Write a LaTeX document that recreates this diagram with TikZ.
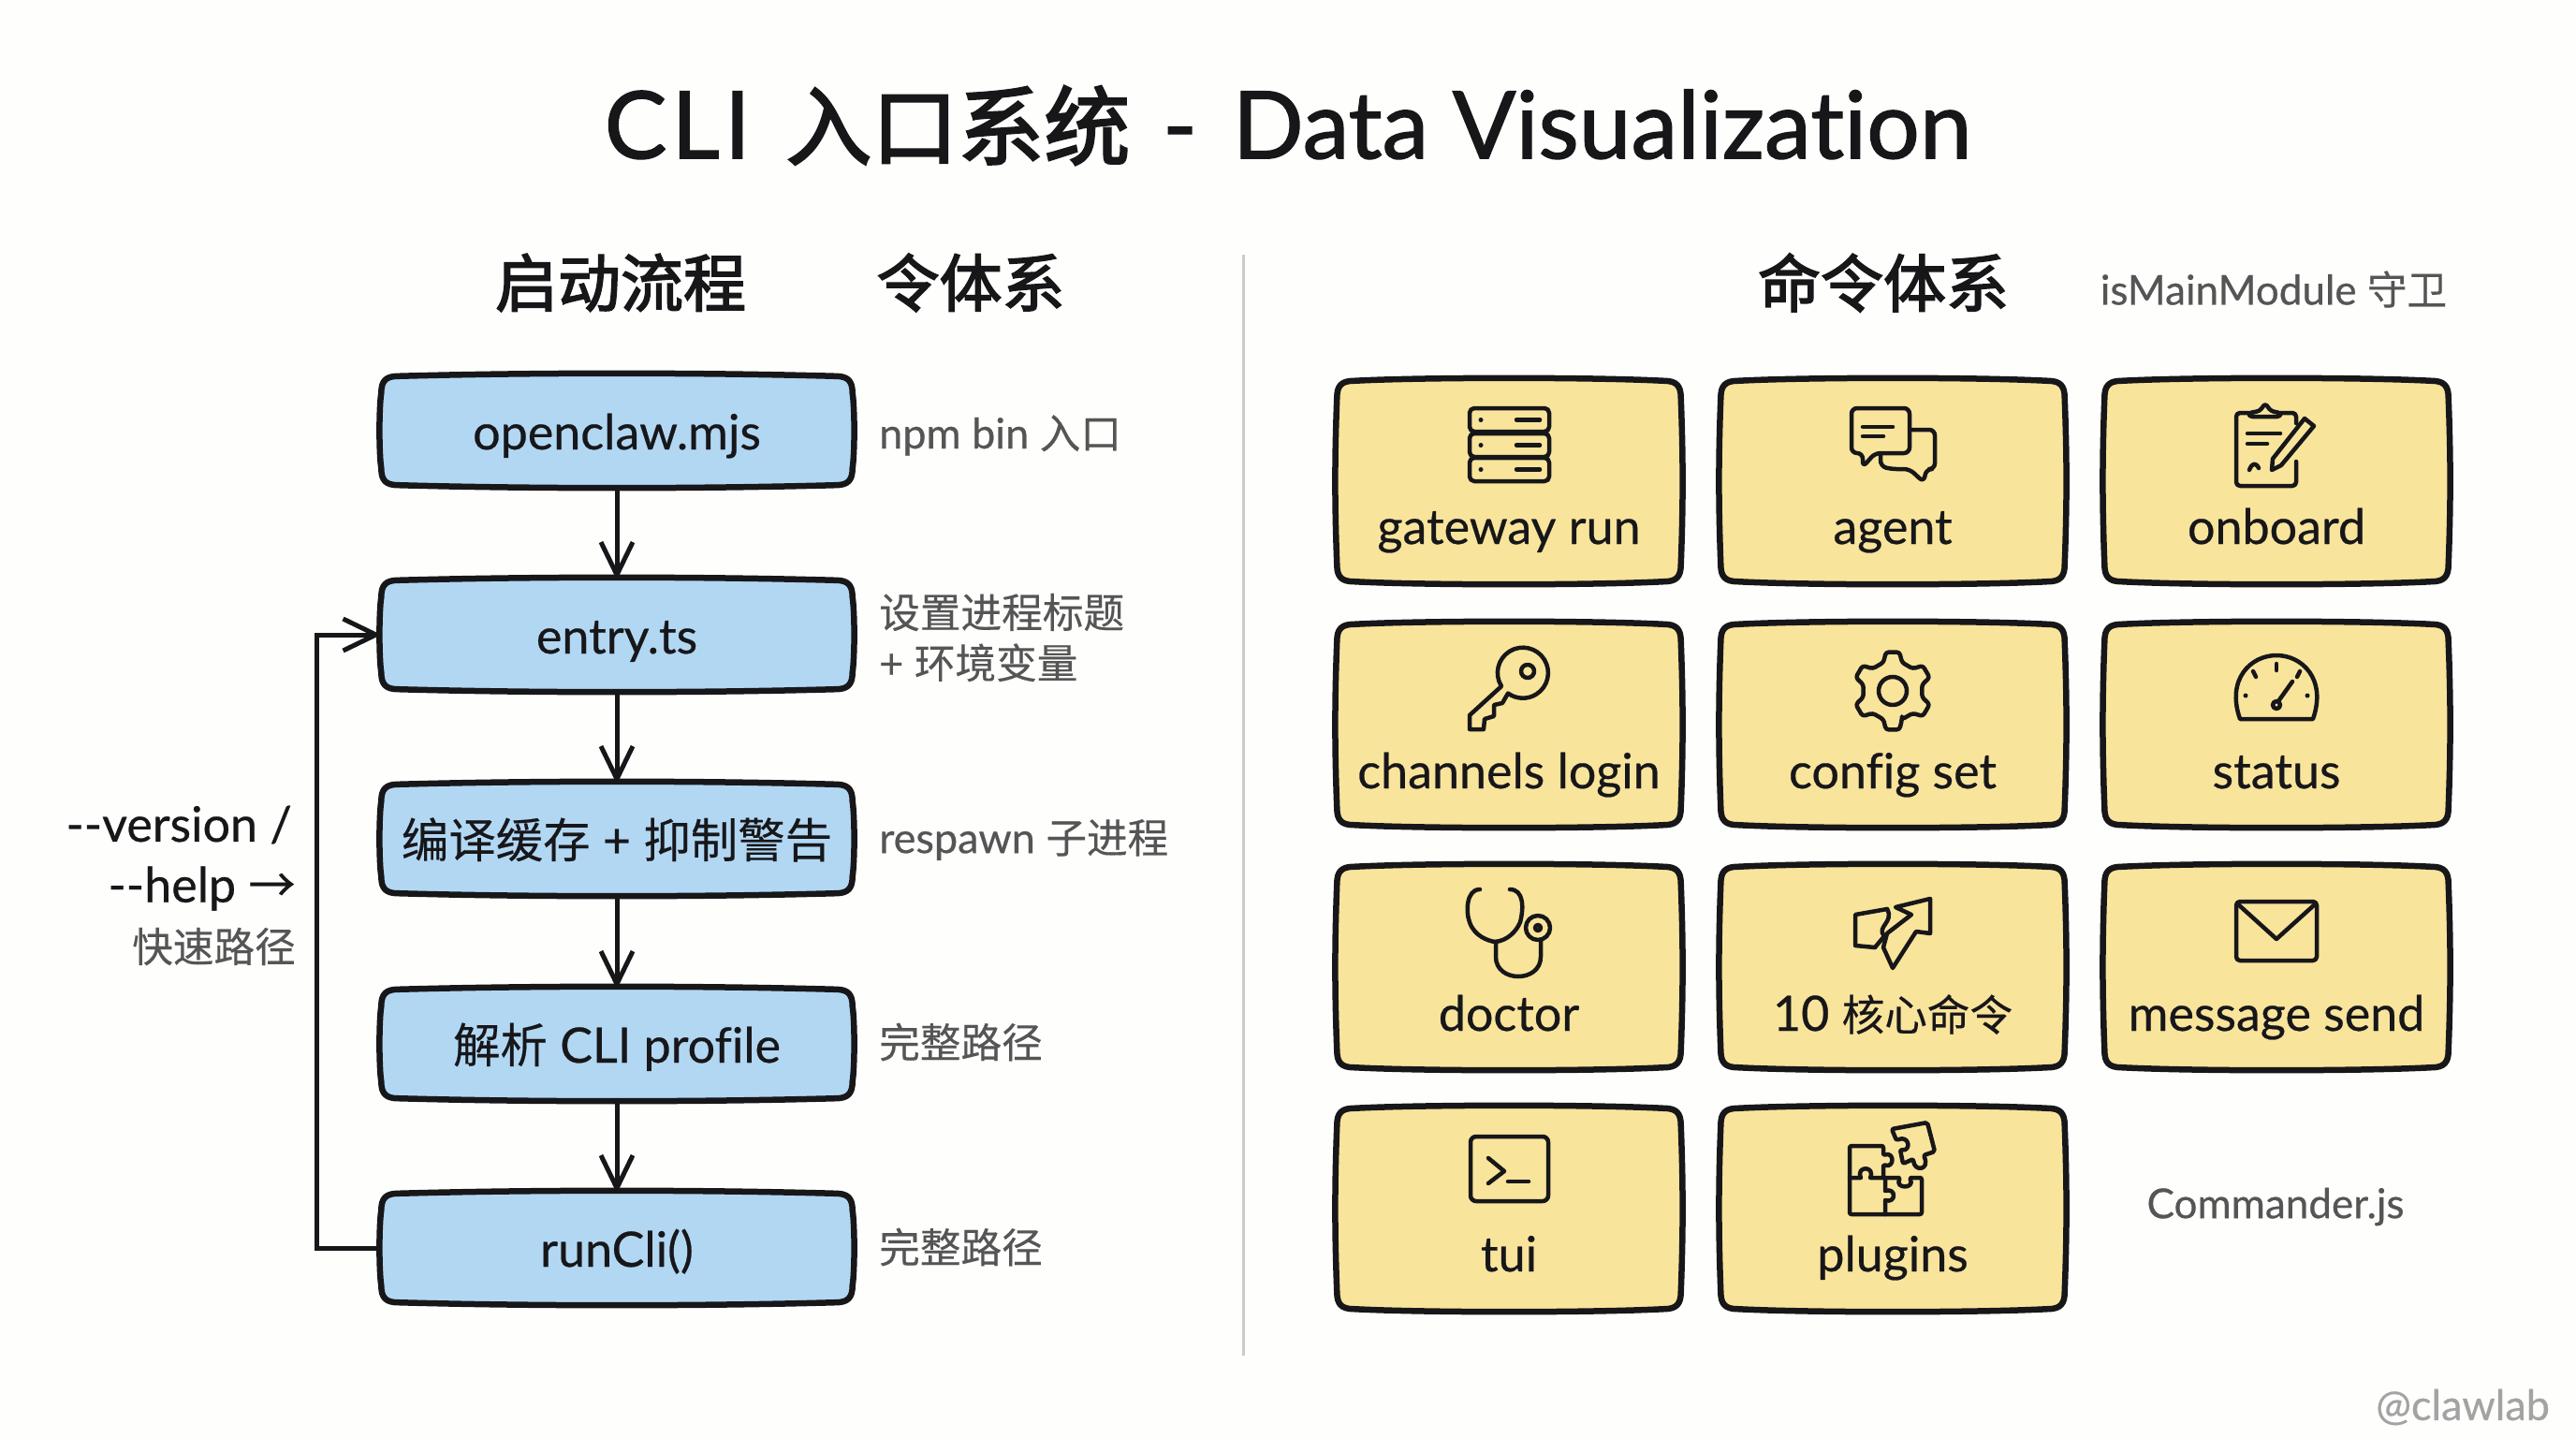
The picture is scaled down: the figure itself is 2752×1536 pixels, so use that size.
\documentclass[tikz,border=0pt]{standalone}
\usepackage{fontspec}
\setmainfont{Lato}[Ligatures=NoCommon, FakeBold=0.5]
\newfontfamily\cjk{Noto Sans CJK SC}[Scale=0.97, FakeBold=0.3]
\newfontfamily\titlefont{Lato}[Ligatures=NoCommon, FakeBold=1.3]
\newfontfamily\cjkhead{Noto Sans CJK SC}[FakeBold=2.5]
\usepackage{tikz}
\usetikzlibrary{positioning, arrows.meta}

\definecolor{ink}{HTML}{17171A}
\definecolor{paper}{HTML}{FEFEFD}
\definecolor{flowblue}{HTML}{B2D7F3}
\definecolor{cardyellow}{HTML}{F9E49C}
\definecolor{notegray}{HTML}{555555}
\definecolor{markgray}{HTML}{A3A3A3}
\definecolor{rulegray}{HTML}{CCCCCC}

\newcommand{\zh}[1]{{\cjk #1}}
\newcommand{\fsize}[1]{\fontsize{#1}{#1}\selectfont}

\tikzset{
    >={Straight Barb[length=35pt, width=34pt, line width=5pt]},
    flowbox/.style={shape=rectangle, fill=flowblue, rounded corners=14pt, minimum width=503pt, minimum height=116pt, inner sep=0pt, text height=40pt, text depth=0pt, font=\fsize{52}, text=ink},
    cmdcard/.style={shape=rectangle, fill=cardyellow, rounded corners=14pt, minimum width=367pt, minimum height=214pt, inner sep=0pt},
    cmdtext/.style={anchor=base, inner sep=0pt, font=\fsize{52}, text=ink},
    note/.style={anchor=west, inner sep=0pt, font=\fsize{45}, text=notegray, align=left},
    sidenote/.style={anchor=east, inner sep=0pt, font=\fsize{52}, text=ink},
    heading/.style={inner sep=0pt, font=\fsize{67}\cjkhead, text=ink},
    softline/.style={draw=ink, line width=6.5pt, line join=round},
    flow/.style={draw=ink, line width=5pt},
    icon/.style={draw=ink, line width=4.5pt, line join=round, line cap=round},
}

\newcommand{\softedge}[1]{
    \draw[softline]
        ([xshift=18pt]#1.north west) .. controls ([xshift=-90pt, yshift=4pt]#1.north) and ([xshift=90pt, yshift=4pt]#1.north) .. ([xshift=-18pt]#1.north east)
        .. controls ([xshift=-5pt]#1.north east) and ([yshift=-5pt]#1.north east) .. ([yshift=-18pt]#1.north east)
        .. controls ([xshift=2.5pt, yshift=25pt]#1.east) and ([xshift=2.5pt, yshift=-25pt]#1.east) .. ([yshift=18pt]#1.south east)
        .. controls ([yshift=5pt]#1.south east) and ([xshift=-5pt]#1.south east) .. ([xshift=-18pt]#1.south east)
        .. controls ([xshift=90pt, yshift=-4pt]#1.south) and ([xshift=-90pt, yshift=-4pt]#1.south) .. ([xshift=18pt]#1.south west)
        .. controls ([xshift=5pt]#1.south west) and ([yshift=5pt]#1.south west) .. ([yshift=18pt]#1.south west)
        .. controls ([xshift=-2.5pt, yshift=-25pt]#1.west) and ([xshift=-2.5pt, yshift=25pt]#1.west) .. ([yshift=-18pt]#1.north west)
        .. controls ([yshift=-5pt]#1.north west) and ([xshift=5pt]#1.north west) .. cycle;
}

\begin{document}
\begin{tikzpicture}[x=1pt, y=-1pt]
    \useasboundingbox[fill=paper] (0,0) rectangle (2752,1536);

    \node[inner sep=0pt, font=\fsize{100}\titlefont, text=ink] (title) at (1376,134) {{\addfontfeature{LetterSpace=5}CLI}\hspace{12pt} {\fsize{92}\cjkhead 入口系统}\hspace{9pt} -\hspace{12pt} Data Visualization};

    \node[heading] (flowhead) at (663,302) {启动流程};
    \node[heading] (flowhead2) at (1037,302) {令体系};
    \node[heading] (cmdhead) at (2012,302) {命令体系};
    \node[inner sep=0pt, font=\fsize{44}, text=notegray] (guard) at (2429,309) {isMainModule \zh{守卫}};

    \node[inner sep=0pt, minimum width=3pt, minimum height=1176pt, fill=rulegray] (divider) at (1328,860) {};

    \node[flowbox] (openclaw) at (659,460) {openclaw.mjs};
    \node[flowbox] (entry) at (659,678) {entry.ts};
    \node[flowbox] (cache) at (659,896) {\zh{编译缓存} + \zh{抑制警告}};
    \node[flowbox] (profile) at (659,1115) {\zh{解析} CLI profile};
    \node[flowbox] (runcli) at (659,1333) {runCli()};
    \softedge{openclaw}
    \softedge{entry}
    \softedge{cache}
    \softedge{profile}
    \softedge{runcli}

    \path [->, flow] (openclaw) edge (entry);
    \path [->, flow] (entry) edge (cache);
    \path [->, flow] (cache) edge (profile);
    \path [->, flow] (profile) edge (runcli);
    \draw [->, flow] (runcli.west) -- ++(-69,0) |- (entry.west);

    \node[note] (note1) at (939,465) {npm bin \zh{入口}};
    \node[note] (note2) at (939,681) {\zh{设置进程标题}\\[9pt]+ \zh{环境变量}};
    \node[note] (note3) at (939,897) {respawn \zh{子进程}};
    \node[note] (note4) at (939,1113) {\zh{完整路径}};
    \node[note] (note5) at (939,1332) {\zh{完整路径}};

    \node[sidenote] (version) at (312,881) {-{}-version /};
    \node[sidenote] (help) at (316,949) {-{}-help \zh{→}};
    \node[sidenote, text=notegray, font=\fsize{45}] (fast) at (316,1011) {\zh{快速路径}};

    \node[cmdcard] (gateway) at (1612,514) {};
    \node[cmdcard] (agent) at (2022,514) {};
    \node[cmdcard] (onboard) at (2432,514) {};
    \node[cmdcard] (channels) at (1612,774) {};
    \node[cmdcard] (config) at (2022,774) {};
    \node[cmdcard] (status) at (2432,774) {};
    \node[cmdcard] (doctor) at (1612,1033) {};
    \node[cmdcard] (core) at (2022,1033) {};
    \node[cmdcard] (message) at (2432,1033) {};
    \node[cmdcard] (tui) at (1612,1291) {};
    \node[cmdcard] (plugins) at (2022,1291) {};
    \softedge{gateway}
    \softedge{agent}
    \softedge{onboard}
    \softedge{channels}
    \softedge{config}
    \softedge{status}
    \softedge{doctor}
    \softedge{core}
    \softedge{message}
    \softedge{tui}
    \softedge{plugins}

    \node[cmdtext] (gatewaytext) at (1612,581) {gateway run};
    \node[cmdtext] (agenttext) at (2022,581) {agent};
    \node[cmdtext] (onboardtext) at (2432,581) {onboard};
    \node[cmdtext] (channelstext) at (1612,842) {channels login};
    \node[cmdtext] (configtext) at (2022,842) {config set};
    \node[cmdtext] (statustext) at (2432,842) {status};
    \node[cmdtext] (doctortext) at (1612,1101) {doctor};
    \node[cmdtext] (coretext) at (2022,1101) {10 {\fsize{47}\zh{核心命令}}};
    \node[cmdtext] (messagetext) at (2432,1101) {message send};
    \node[cmdtext] (tuitext) at (1612,1358) {tui};
    \node[cmdtext] (pluginstext) at (2022,1358) {plugins};

    \node[inner sep=0pt, font=\fsize{44}, text=notegray] (commander) at (2431,1289) {Commander.js};
    \node[anchor=east, inner sep=0pt, font=\fsize{45}, text=markgray] (mark) at (2724,1503) {@clawlab};

    % server
    \foreach \row in {436,463,489} {
        \draw[icon, rounded corners=5pt] (1570,\row) rectangle (1655,\row+25);
        \fill[ink] (1582,\row+12.5) circle (2.5);
        \draw[icon] (1620,\row+12.5) -- (1645,\row+12.5);
    }

    % chat
    \draw[icon, rounded corners=6pt] (1978,436) -- (2040,436) -- (2040,484) -- (2003,484) -- (1990,499) -- (1990,484) -- (1978,484) -- cycle;
    \draw[icon, rounded corners=6pt] (2041,459) -- (2067,459) -- (2067,501) -- (2058,501) -- (2055,515) -- (2040,501) -- (2020,501) -- (2009,498) -- (2009,485);
    \draw[icon] (1990,456) -- (2022,456);
    \draw[icon] (1990,466) -- (2012,466);

    % clipboard
    \draw[icon, rounded corners=4pt] (2453,452) -- (2453,441) -- (2436,441);
    \draw[icon, rounded corners=4pt] (2403,441) -- (2389,441) -- (2389,519) -- (2453,519) -- (2453,493);
    \draw[icon, rounded corners=3pt] (2403,445) -- (2403,441) -- (2414,439) -- (2420,431) -- (2426,439) -- (2436,441) -- (2436,445) -- cycle;
    \draw[icon] (2401,463) -- (2436,463);
    \draw[icon] (2401,474) -- (2422,474);
    \draw[icon] (2403,502) .. controls (2406,494) and (2410,494) .. (2413,500);
    \draw[icon] (2462,447) -- (2472,455) -- (2437,497) -- (2427,502) -- (2428,490) -- cycle;

    % key
    \begin{scope}[shift={(0,3)}]
        \draw[icon] (1604,730) arc[start angle=148, end angle=486, radius=27] -- (1605,748) -- (1596,750) -- (1596,762) -- (1586,765) -- (1585,776) -- (1570,776) -- (1570,761) -- cycle;
        \draw[icon] (1632,714) circle (7);
    \end{scope}

    % gear
    \begin{scope}[shift={(2022,738)}]
        \draw[icon, rounded corners=3pt] (72:32) \foreach \a in {90,150,210,270,330,390} { -- (\a-10:42) -- (\a+10:42) -- (\a+18:32) -- (\a+42:32) } -- cycle;
        \draw[icon] (0,0) circle (15);
    \end{scope}

    % gauge
    \draw[icon] (2393,768) .. controls (2378,725) and (2405,700) .. (2432,700) .. controls (2459,700) and (2486,725) .. (2471,768) -- cycle;
    \draw[icon] (2432,709) -- (2432,716);
    \draw[icon] (2407,717) -- (2410,723);
    \draw[icon] (2457,717) -- (2454,723);
    \fill[ink] (2399,743) circle (2.5);
    \fill[ink] (2465,743) circle (2.5);
    \draw[icon] (2432,753) circle (4);
    \draw[icon] (2434,749) -- (2449,728);

    % stethoscope
    \draw[icon] (1581,950) .. controls (1566,950) and (1566,975) .. (1570,985) .. controls (1575,1000) and (1590,1005) .. (1597,1006) .. controls (1610,1005) and (1620,995) .. (1624,985) .. controls (1628,970) and (1628,950) .. (1613,950);
    \draw[icon] (1598,1006) -- (1598,1022) .. controls (1598,1050) and (1646,1050) .. (1646,1022) -- (1646,1004);
    \draw[icon] (1643,991) circle (13);
    \draw[icon] (1643,991) circle (3);

    % arrow pieces
    \draw[icon] (2016,971) -- (1982,977) -- (1982,1010) -- (2003,1012);
    \draw[icon] (2016,971) .. controls (2024,985) and (2004,990) .. (2013,1000) -- (2003,1012);
    \draw[icon] (2062,960) -- (2025,969) -- (2042,977) -- (2016,997) -- (2012,1012) -- (2022,1034) -- (2047,995) -- (2062,997) -- cycle;

    % envelope
    \draw[icon, rounded corners=4pt] (2389,963) rectangle (2475,1026);
    \draw[icon] (2391,966) -- (2432,1003) -- (2473,966);

    % terminal
    \draw[icon, rounded corners=6pt] (1571,1214) rectangle (1654,1283);
    \draw[icon] (1590,1237) -- (1607,1251) -- (1590,1264);
    \draw[icon] (1611,1262) -- (1633,1262);

    % puzzle
    \draw[icon, rounded corners=2pt] (2012,1258) -- (2012,1244) .. controls (2024,1248) and (2024,1230) .. (2012,1234) -- (2012,1224) -- (1976,1224) -- (1976,1297) -- (2053,1297) -- (2053,1258) -- (2040,1258) .. controls (2046,1270) and (2024,1270) .. (2030,1258) -- cycle;
    \draw[icon] (1976,1258) -- (1988,1258) .. controls (1982,1245) and (2004,1245) .. (1998,1258) -- (2014,1258) -- (2014,1272) .. controls (2026,1268) and (2026,1286) .. (2014,1282) -- (2014,1297);
    \draw[icon, rounded corners=2pt] (2021,1206) -- (2059,1199) -- (2067,1230) -- (2055,1234) .. controls (2062,1250) and (2045,1252) .. (2044,1238) -- (2033,1243) -- (2030,1228) .. controls (2042,1230) and (2040,1212) .. (2026,1218) -- cycle;
\end{tikzpicture}
\end{document}
